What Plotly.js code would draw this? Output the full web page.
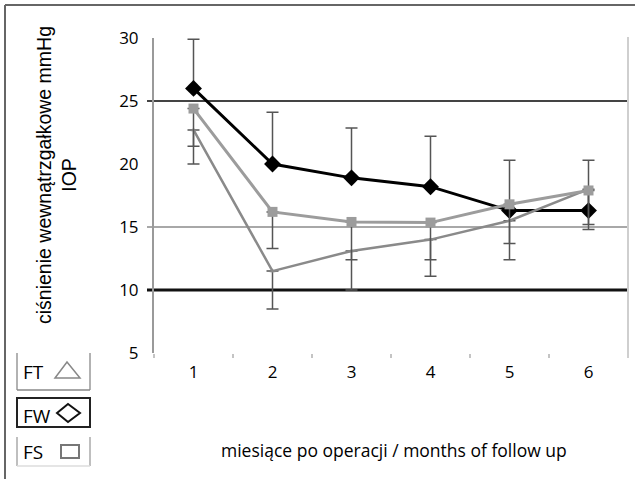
<!DOCTYPE html>
<html>
<head>
<meta charset="utf-8">
<script src="https://cdn.plot.ly/plotly-3.0.1.min.js"></script>
<style>html,body{margin:0;padding:0;background:#fff;}#chart{width:635px;height:479px;}</style>
</head>
<body>
<div id="chart"></div>
<script>
// ---- data ----
const months = ['1', '2', '3', '4', '5', '6'];
const fw = [26.0, 20.0, 18.9, 18.2, 16.3, 16.3];
const fwPlus = [3.9, 4.1, 3.95, 4.0, 4.0, 4.0];
const fs = [24.4, 16.2, 15.4, 15.35, 16.8, 17.9];
const fsMinus = [3.0, 2.9, 3.0, 2.95, 3.1, 2.7];
const ft = [22.7, 11.5, 13.1, 14.0, 15.5, 18.0];
const ftMinus = [2.7, 3.0, 3.1, 2.9, 3.1, 3.2];
const refLines = [25, 15, 10];
const yTickVals = [5, 10, 15, 20, 25, 30];
const legendLabels = ['FT', 'FW', 'FS'];
const yTitle = 'ciśnienie wewnątrzgałkowe mmHg<br>IOP';
const xTitle = 'miesiące po operacji / months of follow up';

// ---- geometry helpers (pixel -> paper) ----
const W = 635, H = 479, ML = 154, MR = 7, MT = 38, MB = 126;
const PW = W - ML - MR, PH = H - MT - MB;
const fx = p => (p - ML) / PW;
const fy = p => (H - MB - p) / PH;

const zeros = months.map(() => 0);

const traces = [
  {
    type: 'scatter', mode: 'lines+markers', name: 'FW', x: months, y: fw,
    line: {color: '#000', width: 3},
    marker: {symbol: 'diamond', size: 13, color: '#000'},
    error_y: {type: 'data', symmetric: false, array: fwPlus, arrayminus: zeros,
      color: '#555', thickness: 1.5, width: 6}
  },
  {
    type: 'scatter', mode: 'lines+markers', name: 'FT', x: months, y: ft,
    line: {color: '#8a8a8a', width: 2.5},
    marker: {symbol: 'triangle-up', size: 5, color: '#8a8a8a'},
    error_y: {type: 'data', symmetric: false, array: zeros, arrayminus: ftMinus,
      color: '#555', thickness: 1.5, width: 6}
  },
  {
    type: 'scatter', mode: 'lines+markers', name: 'FS', x: months, y: fs,
    line: {color: '#9c9c9c', width: 3},
    marker: {symbol: 'square', size: 10, color: '#9c9c9c'},
    error_y: {type: 'data', symmetric: false, array: zeros, arrayminus: fsMinus,
      color: '#555', thickness: 1.5, width: 6}
  }
];

const refStyles = [
  {color: '#444', width: 2},
  {color: '#a8a8a8', width: 2},
  {color: '#111', width: 3}
];

const shapes = [];
refLines.forEach((v, i) => {
  shapes.push({type: 'line', xref: 'paper', yref: 'y', x0: fx(147), x1: 1, y0: v, y1: v,
    line: refStyles[i], layer: 'below'});
});
// right border line of plot
shapes.push({type: 'line', xref: 'paper', yref: 'paper', x0: 1, x1: 1, y0: fy(358), y1: fy(37),
  line: {color: '#cfcfcf', width: 2}});
// outer frame (top and left)
shapes.push({type: 'line', xref: 'paper', yref: 'paper', x0: fx(5), x1: fx(635), y0: fy(5), y1: fy(5),
  line: {color: '#666', width: 2}});
shapes.push({type: 'line', xref: 'paper', yref: 'paper', x0: fx(5), x1: fx(5), y0: fy(5), y1: fy(479),
  line: {color: '#666', width: 2}});

// legend boxes
const seg = (x0, y0, x1, y1, color, width) => ({type: 'line', xref: 'paper', yref: 'paper',
  x0: fx(x0), y0: fy(y0), x1: fx(x1), y1: fy(y1), line: {color: color, width: width}});
// FT box
shapes.push(seg(17, 353, 17, 390, '#999', 1.5));
shapes.push(seg(90, 353, 90, 390, '#999', 1.5));
shapes.push(seg(17, 390, 90, 390, '#888', 1.5));
// FW box
shapes.push({type: 'rect', xref: 'paper', yref: 'paper', x0: fx(17), x1: fx(90), y0: fy(427), y1: fy(398),
  line: {color: '#222', width: 2}});
// FS box
shapes.push(seg(17, 437, 17, 466, '#aaa', 1.5));
shapes.push(seg(90, 437, 90, 466, '#aaa', 1.5));
shapes.push(seg(17, 466, 90, 466, '#ddd', 1.5));
// legend symbols
const path = pts => 'M ' + pts.map(p => fx(p[0]) + ' ' + fy(p[1])).join(' L ') + ' Z';
shapes.push({type: 'path', xref: 'paper', yref: 'paper', path: path([[55, 378], [67, 362], [80, 378]]),
  line: {color: '#888', width: 1.5}});
shapes.push({type: 'path', xref: 'paper', yref: 'paper', path: path([[57, 413], [68, 404], [80, 413], [68, 422]]),
  line: {color: '#111', width: 2}});
shapes.push({type: 'rect', xref: 'paper', yref: 'paper', x0: fx(61), x1: fx(79), y0: fy(458), y1: fy(445),
  line: {color: '#777', width: 2}});

const legendY = [372, 416, 452];
const annotations = legendLabels.map((t, i) => ({
  xref: 'paper', yref: 'paper', x: fx(21), y: fy(legendY[i]), xanchor: 'left', yanchor: 'middle',
  text: t, showarrow: false, font: {family: 'Open Sans', size: 19, color: '#000'}
}));
annotations.push({
  xref: 'paper', yref: 'paper', x: fx(56), y: fy(175), xanchor: 'center', yanchor: 'middle',
  text: yTitle, textangle: -90, showarrow: false,
  font: {family: 'Liberation Sans', size: 19.5, color: '#000'}
});
annotations.push({
  xref: 'paper', yref: 'paper', x: fx(394), y: fy(450), xanchor: 'center', yanchor: 'middle',
  text: xTitle, showarrow: false, font: {family: 'Open Sans', size: 17.5, color: '#000'}
});

const layout = {
  width: W, height: H,
  margin: {l: ML, r: MR, t: MT, b: MB},
  paper_bgcolor: '#fff', plot_bgcolor: '#fff',
  showlegend: false,
  font: {family: 'Open Sans', size: 17, color: '#000'},
  xaxis: {
    type: 'category', range: [-0.5, 5.5], tickson: 'boundaries',
    ticks: 'outside', ticklen: 4, tickwidth: 2, tickcolor: '#c4c4c4',
    showline: false, showgrid: false, zeroline: false,
    ticklabelstandoff: 7,
    tickfont: {family: 'Open Sans', size: 17, color: '#000'}
  },
  yaxis: {
    range: [5, 30], tickvals: yTickVals, ticktext: yTickVals.map(String),
    showgrid: false, zeroline: false,
    showline: true, linecolor: '#9a9a9a', linewidth: 2,
    ticks: 'outside', ticklen: 10, tickcolor: 'rgba(0,0,0,0)',
    tickfont: {family: 'Open Sans', size: 17, color: '#000'}
  },
  shapes: shapes,
  annotations: annotations
};

Plotly.newPlot('chart', traces, layout, {displayModeBar: false, staticPlot: true});
</script>
</body>
</html>
